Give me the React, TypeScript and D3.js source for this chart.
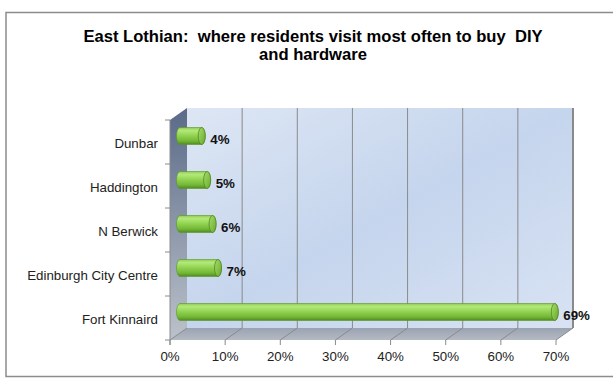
import React from "react";
import * as d3 from "d3";

const categories = ["Dunbar", "Haddington", "N Berwick", "Edinburgh City Centre", "Fort Kinnaird"];
const values = [4, 5, 6, 7, 69];
const ticks = [0, 10, 20, 30, 40, 50, 60, 70];
const titleLines = ["East Lothian:  where residents visit most often to buy  DIY", "and hardware"];

const W = 613, H = 383;
const DX = 17, DY = -12;
const FONT = "'Liberation Sans', Arial, sans-serif";

export default function App() {
  const x = d3.scaleLinear().domain([0, 70]).range([170, 556]);
  const y = d3.scaleBand().domain(categories).range([120, 340]).paddingInner(0).paddingOuter(0);
  const step = y.step();
  const barH = 17;
  const rx = 3.5;
  const top = 120, bot = 340;
  const x0 = x(0);
  const xEnd = x(70);

  return (
    <svg width={W} height={H} style={{ position: "absolute", left: 0, top: 0 }}>
      <defs>
        <linearGradient id="wall" x1="0" y1="0" x2="1" y2="1">
          <stop offset="0" stopColor="#dde6f4" />
          <stop offset="0.5" stopColor="#c5d5ed" />
          <stop offset="1" stopColor="#d8e2f3" />
        </linearGradient>
        <linearGradient id="side" x1="0" y1="0" x2="0" y2="1">
          <stop offset="0" stopColor="#5a6a88" />
          <stop offset="1" stopColor="#bcc2cb" />
        </linearGradient>
        <linearGradient id="floor" x1="0" y1="0" x2="0" y2="1">
          <stop offset="0" stopColor="#9aa3b2" />
          <stop offset="1" stopColor="#b4bac4" />
        </linearGradient>
        <linearGradient id="bar" x1="0" y1="0" x2="0" y2="1">
          <stop offset="0" stopColor="#8fcf4f" />
          <stop offset="0.18" stopColor="#b4e77c" />
          <stop offset="0.45" stopColor="#94d653" />
          <stop offset="0.8" stopColor="#73b535" />
          <stop offset="1" stopColor="#4c8a20" />
        </linearGradient>
        <linearGradient id="cap" x1="0" y1="0" x2="1" y2="1">
          <stop offset="0" stopColor="#a6de6a" />
          <stop offset="1" stopColor="#6aa82e" />
        </linearGradient>
      </defs>
      <rect x={6} y={12.5} width={W + 10} height={364} fill="#fff" stroke="#8c8c8c" strokeWidth={1.5} />
      {titleLines.map((t, i) => (
        <text key={i} x={313} y={42 + i * 18} textAnchor="middle" fontFamily={FONT} fontWeight="bold" fontSize={16.6} fill="#000">
          {t.replace(/ /g, "\u00a0")}
        </text>
      ))}
      {/* back wall */}
      <rect x={x0 + DX} y={top + DY} width={xEnd - x0} height={bot - top} fill="url(#wall)" />
      {/* left side wall */}
      <polygon points={`${x0},${top} ${x0 + DX},${top + DY} ${x0 + DX},${bot + DY} ${x0},${bot}`} fill="url(#side)" />
      {/* floor */}
      <polygon points={`${x0},${bot} ${xEnd},${bot} ${xEnd + DX},${bot + DY} ${x0 + DX},${bot + DY}`} fill="url(#floor)" />
      {/* gridlines */}
      {ticks.map((t) => (
        <g key={t}>
          {t > 0 && (
            <line x1={x(t) + DX} x2={x(t) + DX} y1={top + DY} y2={bot + DY} stroke="#8a8a8a" strokeWidth={1} />
          )}
          <line x1={x(t)} y1={bot} x2={x(t) + DX} y2={bot + DY} stroke="#8a8a8a" strokeWidth={1} />
        </g>
      ))}
      <line x1={xEnd + DX} x2={xEnd + DX} y1={top + DY} y2={bot + DY} stroke="#8a8a8a" strokeWidth={2} />
      {/* axes */}
      <line x1={x0} x2={x0} y1={top} y2={bot + 5} stroke="#8a8a8a" strokeWidth={1} />
      {categories.map((c, i) => (
        <line key={c} x1={x0 - 5} x2={x0} y1={top + i * step} y2={top + i * step} stroke="#8a8a8a" />
      ))}
      <line x1={x0 - 5} x2={x0} y1={bot} y2={bot} stroke="#8a8a8a" />
      {ticks.map((t) => (
        <line key={t} x1={x(t)} x2={x(t)} y1={bot} y2={bot + 5} stroke="#8a8a8a" />
      ))}
      {ticks.map((t) => (
        <text key={t} x={x(t)} y={361} textAnchor="middle" fontFamily={FONT} fontSize={13.3} fill="#222">
          {t}%
        </text>
      ))}
      {categories.map((c) => (
        <text key={c} x={158} y={(y(c) as number) + step / 2 + 5.5} textAnchor="end" fontFamily={FONT} fontSize={13.3} fill="#222">
          {c}
        </text>
      ))}
      {/* bars */}
      {categories.map((c, i) => {
        const cy = (y(c) as number) + step / 2 + DY / 2;
        const xs = x0 + DX / 2 + 1.5;
        const xe = xs + (x(values[i]) - x0) * 0.985;
        const t = cy - barH / 2, b = cy + barH / 2;
        const path = `M${xs},${b} A${rx},${barH / 2} 0 0 1 ${xs},${t} L${xe},${t} A${rx},${barH / 2} 0 0 1 ${xe},${b} Z`;
        return (
          <g key={c}>
            <path d={path} fill="url(#bar)" stroke="#5a9528" strokeWidth={0.6} />
            <ellipse cx={xe} cy={cy} rx={rx} ry={barH / 2} fill="url(#cap)" stroke="#4f8a22" strokeWidth={0.8} />
            <text x={xe + rx + 5} y={cy + 8} fontFamily={FONT} fontWeight="bold" fontSize={13.3} fill="#111">
              {values[i]}%
            </text>
          </g>
        );
      })}
    </svg>
  );
}
